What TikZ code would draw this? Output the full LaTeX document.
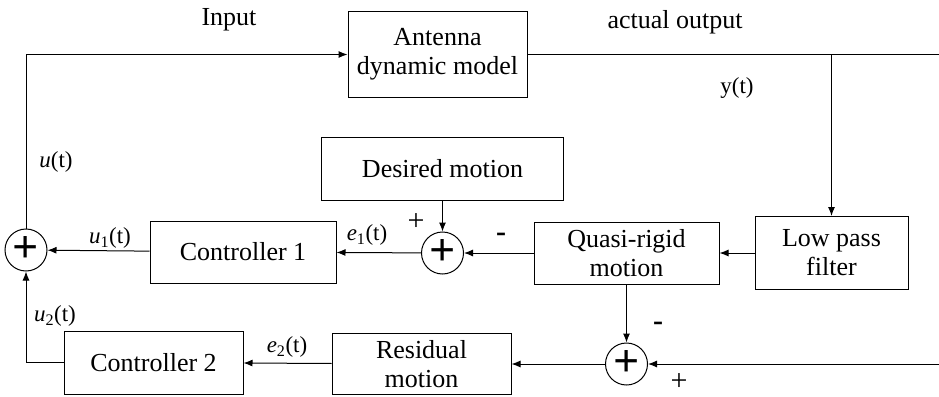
\documentclass[tikz,border=0pt]{standalone}
\usepackage{fontspec}
\setmainfont{Liberation Serif}
\usetikzlibrary{arrows.meta}

\begin{document}
\begin{tikzpicture}[x=1pt, y=-1pt, line width=1pt, >={Latex[length=9pt,width=7pt]},
	block/.style={draw, align=center, inner sep=0pt, font=\fontsize{26}{29}\selectfont},
	sum/.style={draw, circle, minimum size=42pt, inner sep=0pt, font=\fontsize{46}{46}\selectfont\bfseries},
	lbl/.style={font=\fontsize{23}{26}\selectfont},
	head/.style={font=\fontsize{26}{29}\selectfont},
	sign/.style={font=\fontsize{30}{30}\selectfont}]
	\useasboundingbox (0,0) rectangle (939,396);

	\node[block, minimum width=179pt, minimum height=85pt] (ant) at (437.5,54.5) {Antenna\\dynamic model};
	\node[block, minimum width=242pt, minimum height=63pt] (des) at (442.5,168.5) {Desired motion};
	\node[block, minimum width=153pt, minimum height=73pt] (lpf) at (831.5,253) {Low pass\\filter};
	\node[block, minimum width=185pt, minimum height=62pt] (qr) at (626.5,253) {Quasi-rigid\\motion};
	\node[block, minimum width=186pt, minimum height=62pt] (c1) at (243,252) {Controller 1};
	\node[block, minimum width=179pt, minimum height=63pt] (c2) at (153.5,362.5) {Controller 2};
	\node[block, minimum width=179pt, minimum height=61pt] (res) at (421.5,364) {Residual\\motion};

	\node[sum] (s0) at (26,250) {+};
	\node[sum] (s1) at (442.5,253) {+};
	\node[sum] (s2) at (626.5,364) {+};

	\coordinate (yend) at (939,54.5);
	\coordinate (ytap) at (831.5,54.5);
	\coordinate (rend) at (939,364);

	\draw[->] (s0) |- (ant);
	\draw (ant) -- (yend);
	\draw[->] (ytap) -- (lpf);
	\draw[->] (lpf) -- (qr);
	\draw[->] (qr) -- (s1);
	\draw[->] (des) -- (s1);
	\draw[->] (s1) -- (c1);
	\draw[->] (c1) -- (s0);
	\draw[->] (qr) -- (s2);
	\draw[->] (rend) -- (s2);
	\draw[->] (s2) -- (res);
	\draw[->] (res) -- (c2);
	\draw[->] (c2) -| (s0);

	\node[head] (inp) at (229,20) {Input};
	\node[head] (act) at (675,22) {actual output};
	\node[lbl] (y) at (737,88) {y(t)};
	\node[lbl] (u) at (56,162) {\textit{u}(t)};
	\node[lbl] (u1) at (110,238) {\textit{u}\textsubscript{1}(t)};
	\node[lbl] (e1) at (367,235) {\textit{e}\textsubscript{1}(t)};
	\node[lbl] (u2) at (55,316) {\textit{u}\textsubscript{2}(t)};
	\node[lbl] (e2) at (287,347) {\textit{e}\textsubscript{2}(t)};
	\node[sign] (p1) at (416,222) {+};
	\node[sign] (m1) at (501,237) {\textbf{-}};
	\node[sign] (m2) at (658,326) {\textbf{-}};
	\node[sign] (p2) at (679,382) {+};
\end{tikzpicture}
\end{document}
